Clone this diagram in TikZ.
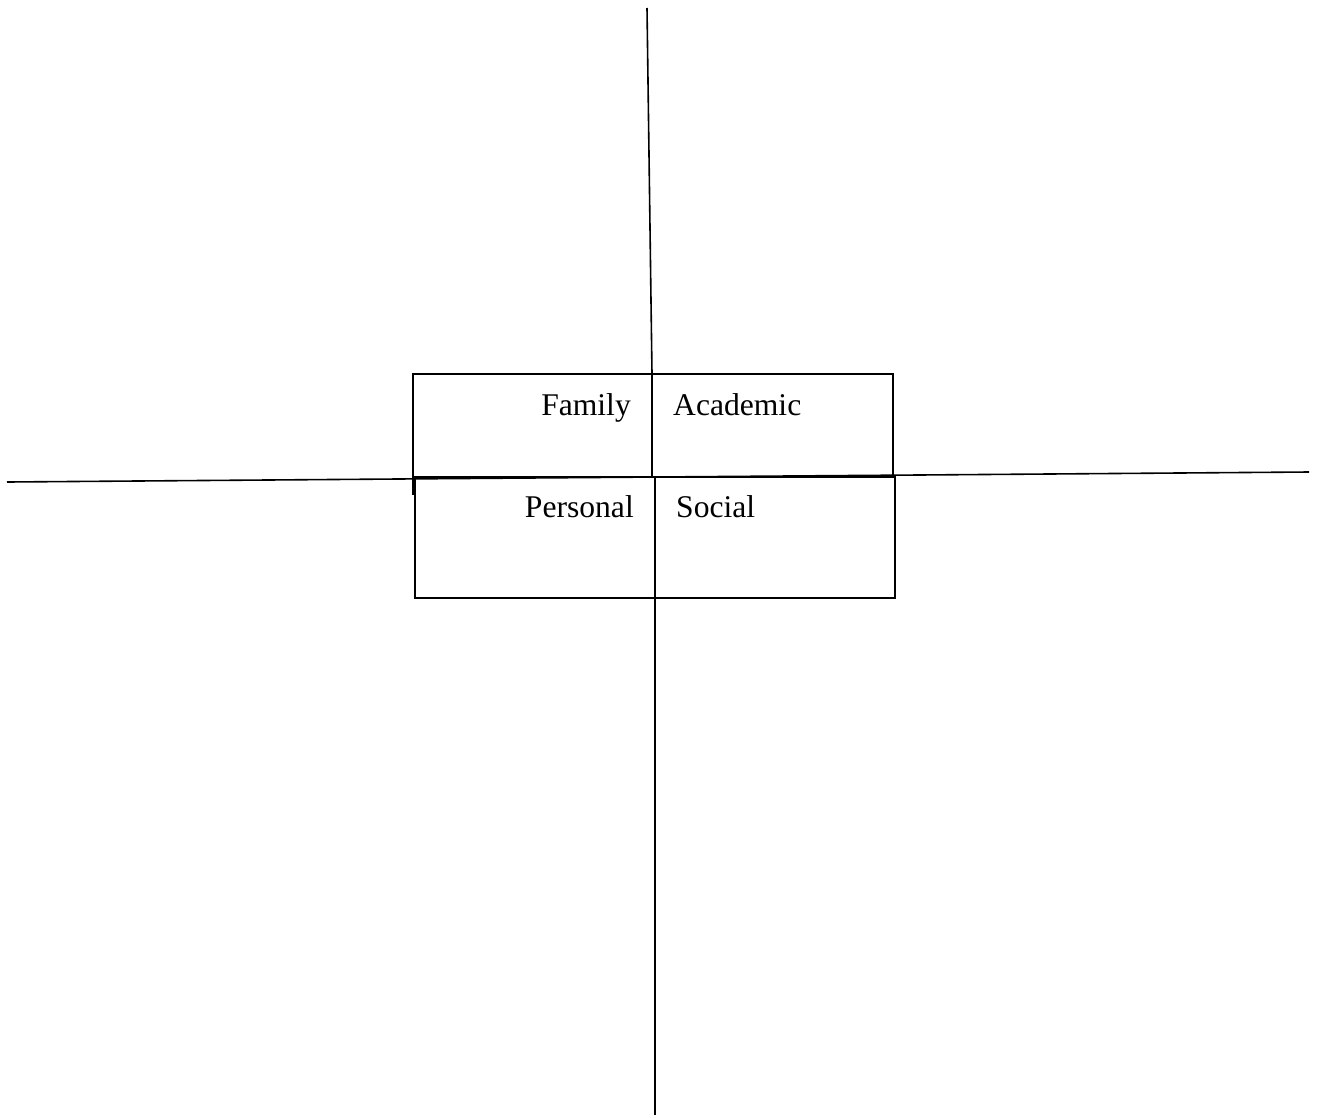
\documentclass[tikz,border=0pt]{standalone}
\usepackage{fontspec}
\setmainfont{Liberation Serif}
\usetikzlibrary{positioning}

\begin{document}
\begin{tikzpicture}[x=1pt, y=-1pt,
            cell/.style={draw=black, line width=1.6pt, rectangle, inner sep=0pt, outer sep=0pt, minimum width=240pt},
            uppercell/.style={cell, minimum height=103pt},
            lowercell/.style={cell, minimum height=121pt},
            axis/.style={line width=1.6pt},
            celllabel/.style={font=\fontsize{31.6}{38}\selectfont, inner sep=0pt}
        ]
        \useasboundingbox (0,0) rectangle (1317,1117);

        % Felder
        \node[uppercell, anchor=north west, minimum width=239pt] (fam) at (413,374) {};
        \node[uppercell, right=0pt of fam, minimum width=241pt] (aca) {};
        \node[lowercell, anchor=north west] (per) at (415,477) {};
        \node[lowercell, right=0pt of per] (soc) {};

        % Beschriftungen
        \node[celllabel, anchor=base east] (famtxt) at (631,415) {Family};
        \node[celllabel, anchor=base west] (acatxt) at (673,415) {Academic};
        \node[celllabel, anchor=base east] (pertxt) at (634,517) {Personal};
        \node[celllabel, anchor=base west] (soctxt) at (676,517) {Social};

        % Achsen
        \coordinate (ntop) at (647,8);
        \coordinate (nbot) at (655,1115);
        \coordinate (wend) at (7,482);
        \coordinate (eend) at (1309,472);

        \draw[axis] (ntop) -- (fam.north east);
        \draw[axis] (per.south east) -- (nbot);
        \draw[axis] (wend) -- (eend);
        \draw[axis] (fam.south west) -- ++(0,18);

    \end{tikzpicture}
\end{document}
